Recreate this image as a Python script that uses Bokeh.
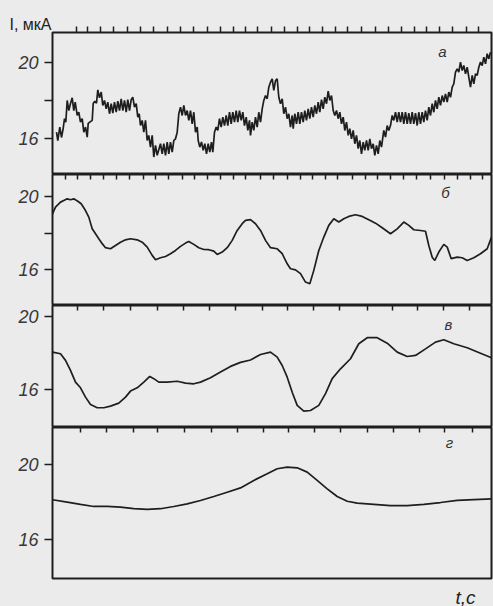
from bokeh.plotting import figure
from bokeh.layouts import column
from bokeh.models import FixedTicker, Label, Range1d, GlobalInlineStyleSheet, Title
from bokeh.embed import file_html
from bokeh.resources import INLINE

# ---------------- data (t in arbitrary units, I in мкА) ----------------
t_a = [4, 5.3, 7.3, 9, 10.7, 12, 13.3, 14.7, 16.3, 18, 19.7, 21.3, 22.7, 24.7, 26.3, 28, 29.7, 31.3, 33, 34.7,
       35.7, 37.3, 39.7, 40.7, 42.3, 44, 45.3, 47, 48.7, 50.3, 52, 53.7, 55.3, 57, 58.7, 60.3, 62, 63.7, 65.3, 67,
       68.7, 70.3, 72, 73.7, 75.3, 77, 78.7, 80.3, 82, 83.7, 85.3, 86.7, 88, 89.7, 91.3, 93, 94.7, 96.3, 98, 99.7,
       101.3, 103, 104.7, 108, 109.7, 111.3, 113, 114.7, 116.3, 118, 119.7, 121.3, 123, 124.7, 126.3, 128, 129.7,
       131.3, 133, 134.7, 136.3, 138, 139.7, 141.3, 143, 144.7, 145.7, 147.3, 149, 150.7, 152.3, 154, 155.7, 157.3,
       159, 160.3, 162, 163.7, 165.3, 167, 168.7, 170.3, 172, 173.7, 175.3, 177, 178.7, 180.3, 182, 183.7, 185.3,
       187, 188.7, 190.3, 192, 193.7, 195.3, 197, 198, 199.7, 201.3, 203, 204.7, 206.3, 208, 209.7, 211.3, 213,
       214.7, 216.3, 218, 219.7, 221.3, 223, 224.7, 226.3, 228, 229.7, 231.3, 233, 234.7, 236.3, 238, 239.7, 240.7,
       242.3, 244, 245.7, 247.3, 249, 250.7, 252.3, 254, 255.7, 257.3, 259, 260.7, 262.3, 264, 265.7, 267.3, 269,
       270.7, 272.3, 274, 275.7, 277.3, 279, 280.7, 282.3, 284, 285.7, 287.3, 289, 290.7, 292.3, 294, 295.7, 297.3,
       299, 300.7, 302.3, 304, 305.7, 307.3, 309, 310.7, 312.3, 314, 315.7, 317.3, 319, 320.7, 322.3, 324, 325.7,
       327.3, 329, 331.3, 333, 334.7, 336.3, 338, 339.7, 341.3, 343, 344.7, 346.3, 348, 349.7, 351.3, 353, 354.7,
       356.3, 358, 359.7, 361.3, 363, 364.7, 366.3, 368, 369.7, 371.3, 373, 374.7, 376.3, 378, 379.7, 381.3, 383,
       384.7, 386.3, 388, 389.7, 391.3, 393, 394.7, 396.3, 398, 399.7, 401.3, 403, 404.7, 406.3, 408, 409.7, 411.3,
       413, 414.7, 416.3, 418, 419.7, 421.3, 423, 424.7, 426.3, 428, 429.7, 431.3, 433, 434.7, 436.3, 438]
i_a = [16.33, 15.89, 16.6, 16.05, 16.53, 17.05, 16.86, 18.0, 17.47, 17.84, 18.14, 17.47, 17.91, 17.21, 17.38, 16.86,
       17.05, 16.33, 16.6, 16.07, 16.79, 16.86, 16.95, 17.84, 17.96, 17.86, 18.56, 18.14, 18.44, 17.74, 18.0, 17.56,
       17.91, 17.3, 17.83, 17.33, 17.91, 17.38, 17.96, 17.47, 18.09, 17.47, 18.0, 17.38, 18.04, 17.47, 18.04, 18.17,
       17.65, 17.83, 17.12, 17.3, 16.68, 16.95, 16.33, 16.95, 15.89, 16.16, 15.54, 16.16, 15.02, 15.63, 15.11, 15.72,
       15.19, 15.72, 15.11, 15.81, 15.19, 15.81, 15.28, 15.89, 15.98, 16.33, 17.3, 17.65, 17.21, 17.74, 17.21, 17.47,
       16.95, 17.47, 16.77, 17.38, 16.33, 16.6, 15.89, 15.54, 15.81, 15.37, 15.72, 15.19, 15.72, 15.28, 15.81, 15.28,
       16.33, 16.6, 16.42, 17.04, 16.6, 17.12, 16.68, 17.21, 16.68, 17.38, 16.77, 17.38, 16.86, 17.47, 16.86, 17.47,
       16.95, 17.38, 16.68, 17.12, 16.42, 16.95, 16.16, 16.86, 16.42, 17.12, 16.6, 17.38, 16.86, 17.56, 18.0, 18.26,
       18.09, 18.7, 18.96, 19.14, 18.53, 19.05, 19.14, 18.17, 17.83, 18.09, 17.3, 17.65, 17.04, 17.3, 16.6, 17.21,
       16.51, 17.3, 16.77, 17.38, 16.77, 17.38, 16.86, 17.47, 16.95, 17.56, 17.04, 17.65, 17.12, 17.74, 17.3, 17.91,
       17.38, 18.04, 17.56, 18.17, 17.83, 18.49, 18.0, 18.26, 17.47, 17.21, 17.47, 17.04, 17.38, 16.77, 17.12, 16.42,
       16.86, 16.16, 16.51, 15.98, 16.42, 15.72, 16.16, 15.46, 15.89, 15.19, 15.81, 15.37, 15.89, 15.37, 15.98, 15.46,
       15.72, 15.11, 15.63, 15.19, 15.89, 15.54, 16.42, 16.07, 16.68, 16.42, 16.68, 17.21, 16.95, 17.38, 16.86, 17.38,
       16.86, 17.38, 16.77, 17.38, 16.77, 17.33, 16.77, 17.38, 16.77, 17.33, 16.68, 17.38, 16.77, 17.38, 16.86, 17.47,
       16.95, 17.65, 17.21, 17.83, 17.38, 18.0, 17.56, 18.17, 17.74, 18.26, 17.91, 18.35, 17.91, 18.44, 18.17, 18.7,
       18.88, 19.49, 19.67, 19.49, 20.02, 19.58, 19.84, 19.4, 19.75, 19.23, 18.7, 19.32, 18.88, 19.4, 19.32, 19.75,
       20.02, 19.84, 20.28, 19.93, 20.46, 20.19, 20.54]

t_b = [0, 3, 8, 11.3, 14.7, 18, 21.3, 25.3, 28.7, 33, 36.3, 39.7, 43, 46.3, 49.7, 53, 58, 63, 68, 73, 78, 84.7,
       89.7, 94.7, 99.7, 103, 108, 113, 118, 123, 128, 133, 136.3, 141.3, 146.3, 151.3, 156.3, 161.3, 164.7, 169.7,
       174.7, 179.7, 184.7, 189.7, 193, 198, 203, 208, 213, 218, 224.7, 229.7, 234.7, 238, 243, 248, 253, 257.3,
       261.3, 266.3, 271.3, 276.3, 281.3, 286.3, 291.3, 296.3, 303, 309.7, 316.3, 323, 329.7, 338, 344.7, 351.3,
       356.3, 361.3, 368, 373, 376.3, 379.7, 382.3, 386.3, 391.3, 394.7, 398.7, 404.7, 409.7, 414.7, 421.3, 428,
       434.7, 439]
i_b = [19.05, 19.42, 19.69, 19.78, 19.87, 19.82, 19.87, 19.74, 19.6, 19.23, 18.87, 18.23, 17.96, 17.69, 17.42, 17.2,
       17.14, 17.32, 17.5, 17.63, 17.69, 17.63, 17.5, 17.23, 16.78, 16.54, 16.65, 16.72, 16.87, 17.05, 17.27, 17.45,
       17.54, 17.38, 17.2, 17.1, 17.09, 17.01, 16.83, 16.96, 17.2, 17.6, 18.14, 18.51, 18.69, 18.73, 18.51, 18.14,
       17.6, 17.2, 17.14, 16.87, 16.32, 16.05, 15.99, 15.78, 15.32, 15.23, 15.96, 17.05, 17.78, 18.42, 18.78, 18.6,
       18.78, 18.91, 19.0, 18.91, 18.73, 18.54, 18.29, 17.96, 18.23, 18.6, 18.42, 18.18, 18.14, 18.1, 17.32, 16.68,
       16.5, 16.96, 17.38, 17.23, 16.6, 16.68, 16.65, 16.5, 16.65, 16.87, 17.14, 17.78]

t_c = [0, 8, 13, 18, 23, 28, 33, 38, 44.7, 51.3, 58, 66.3, 73, 78, 84.7, 91.3, 97.3, 101.3, 106.3, 114.7, 124.7,
       133, 141.3, 148, 158, 168, 178, 188, 198, 208, 218, 224.7, 229.7, 234.7, 239.7, 244.7, 251.3, 258, 266.3,
       273, 279.7, 288, 298, 306.3, 314.7, 324.7, 334.7, 344.7, 354.7, 363, 373, 383, 391.3, 401.3, 414.7, 428, 439]
i_c = [18.05, 17.96, 17.6, 17.05, 16.41, 16.1, 15.59, 15.19, 15.01, 15.01, 15.1, 15.26, 15.59, 15.92, 16.1, 16.41,
       16.72, 16.6, 16.41, 16.41, 16.46, 16.36, 16.32, 16.41, 16.65, 16.96, 17.27, 17.49, 17.62, 17.92, 18.05, 17.78,
       17.32, 16.68, 15.86, 15.14, 14.83, 14.86, 15.14, 15.78, 16.6, 17.14, 17.69, 18.51, 18.84, 18.84, 18.54, 18.05,
       17.81, 17.87, 18.23, 18.6, 18.73, 18.51, 18.29, 17.99, 17.74]

t_d = [0, 14.7, 28, 41.3, 54.7, 68, 81.3, 94.7, 108, 121.3, 134.7, 148, 161.3, 174.7, 188, 201.3, 214.7, 224.7,
       234.7, 244.7, 254.7, 264.7, 274.7, 284.7, 294.7, 304.7, 321.3, 338, 354.7, 371.3, 388, 404.7, 421.3, 439]
i_d = [18.12, 17.99, 17.87, 17.76, 17.76, 17.72, 17.65, 17.6, 17.64, 17.76, 17.9, 18.08, 18.29, 18.52, 18.75, 19.15,
       19.5, 19.77, 19.86, 19.82, 19.59, 19.15, 18.7, 18.29, 18.04, 17.94, 17.87, 17.8, 17.8, 17.87, 17.97, 18.08,
       18.13, 18.17]

# time-marker ticks along the top edge of each panel
marks_a = [24, 35, 48, 61, 75, 88, 101, 115, 128, 141, 155, 168, 181, 193, 205, 219, 232, 245, 257, 270, 283, 295,
           309, 323, 336, 349, 362, 374, 387, 400, 414, 426]
marks_b = [13, 25, 38, 51, 64, 77, 91, 103, 116, 130, 142, 155, 168, 181, 193, 208, 221, 235, 248, 260, 273, 285,
           300, 313, 325, 338, 351, 364, 378, 392, 405, 418, 430]
marks_c = [25, 51, 78, 105, 131, 157, 183, 210, 235, 261, 287, 315, 340, 365, 391, 417]
marks_d = [28, 54, 81, 105, 132, 159, 185, 211, 236, 262, 288, 315, 341, 367, 392, 420]

y_ticks_ab = [16, 18, 20]
y_ticks_cd = [16, 20]
y_labels = {16: "16", 18: "", 20: "20"}
panel_names = ["а", "б", "в", "г"]
y_title = "I, мкА"
x_title = "t,c"

BG = "#ebebeb"
INK = "#1e1e1e"
FONT = "Liberation Sans"


def panel(t, i, yr, frame_h, marks, marks_out, yticks, top=0, bottom=0):
    p = figure(frame_width=439, frame_height=frame_h, x_range=Range1d(0, 439), y_range=Range1d(*yr),
               x_axis_location="above", output_backend="svg", toolbar_location=None,
               min_border_left=52, min_border_right=2, min_border_top=top, min_border_bottom=bottom)
    p.background_fill_color = BG
    p.border_fill_color = BG
    p.outline_line_color = INK
    p.outline_line_width = 2
    p.grid.visible = False
    p.line(t, i, line_color=INK, line_width=1.7)

    xa = p.xaxis[0]
    xa.ticker = FixedTicker(ticks=marks)
    xa.axis_line_color = None
    xa.major_tick_line_color = INK
    xa.major_tick_line_width = 1.5
    xa.major_tick_out = 6 if marks_out else 0
    xa.major_tick_in = 0 if marks_out else 5
    xa.minor_tick_line_color = None
    xa.major_label_text_font_size = "0px"
    xa.major_label_text_color = None
    xa.major_label_standoff = 0

    ya = p.yaxis[0]
    ya.ticker = FixedTicker(ticks=yticks)
    ya.major_label_overrides = {k: v for k, v in y_labels.items() if k in yticks}
    ya.axis_line_color = None
    ya.major_tick_line_color = INK
    ya.major_tick_line_width = 1.5
    ya.major_tick_out = 8
    ya.major_tick_in = 0
    ya.minor_tick_line_color = None
    ya.major_label_standoff = 6
    ya.major_label_text_font = FONT
    ya.major_label_text_font_style = "italic"
    ya.major_label_text_font_size = "18px"
    ya.major_label_text_color = "#383838"
    return p


pa = panel(t_a, i_a, (14.1, 21.58), 142, marks_a, True, y_ticks_ab, top=32)
pb = panel(t_b, i_b, (14.04, 21.2), 131, marks_b, False, y_ticks_ab)
pc = panel(t_c, i_c, (13.93, 20.6), 122, marks_c, False, y_ticks_cd)
pd = panel(t_d, i_d, (13.92, 21.97), 151, marks_d, False, y_ticks_cd, bottom=28)

lab_style = dict(text_font=FONT, text_font_style="italic", text_font_size="15px", text_color="#333333",
                 text_align="center", text_baseline="middle")
pa.add_layout(Label(x=390, y=20.58, text=panel_names[0], **lab_style))
pb.add_layout(Label(x=393, y=20.22, text=panel_names[1], **lab_style))
pc.add_layout(Label(x=396, y=19.56, text=panel_names[2], **lab_style))
pd.add_layout(Label(x=397, y=21.17, text=panel_names[3], **lab_style))

pa.title.text = y_title
pa.title.align = "left"
pa.title.offset = -43
pa.title.standoff = -12
pa.title.text_font = FONT
pa.title.text_font_style = "normal"
pa.title.text_font_size = "16px"
pa.title.text_color = "#222222"

pd.add_layout(Title(text=x_title, align="left", offset=403, standoff=12, text_font=FONT,
                    text_font_style="italic", text_font_size="19px", text_color="#222222"), "below")

layout = column(pa, pb, pc, pd, spacing=0,
                stylesheets=[GlobalInlineStyleSheet(css="body{background:#ebebeb;}")])

open("out.html", "w").write(file_html(layout, INLINE))
